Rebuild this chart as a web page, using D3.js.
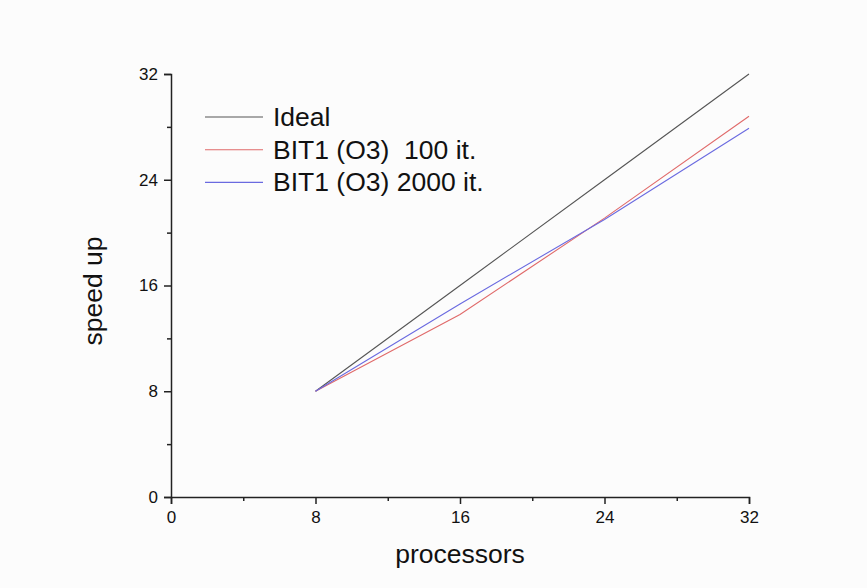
<!DOCTYPE html>
<html>
<head>
<meta charset="utf-8">
<title>speed up</title>
<style>
body { margin: 0; background-color: #fcfcfc; }
svg { display: block; font-family: "Liberation Sans", Arial, sans-serif; }
</style>
</head>
<body>
<svg width="867" height="588"></svg>
<script src="https://cdn.jsdelivr.net/npm/d3@7"></script>
<script>
// data
var processors = [8, 16, 24, 32];
var ideal      = [8, 16, 24, 32];
var bit100     = [8, 13.8, 21.1, 28.8];
var bit2000    = [8, 14.6, 21.0, 27.9];
var seriesNames = ["Ideal", "BIT1 (O3)  100 it.", "BIT1 (O3) 2000 it."];
var seriesColors = ["#555555", "#e06a6a", "#6a6ae0"];
var majorTicks = [0, 8, 16, 24, 32];
var minorTicks = [4, 12, 20, 28];

var svg = d3.select("svg");

var x = d3.scaleLinear().domain([0, 32]).range([171, 749]);
var y = d3.scaleLinear().domain([0, 32]).range([497, 74]);

var series = [ideal, bit100, bit2000].map(function(vals, i) {
  return { name: seriesNames[i], color: seriesColors[i],
           pts: processors.map(function(p, j) { return [p, vals[j]]; }) };
});

// axes
var xAxis = svg.append("g").attr("transform", "translate(0," + y(0) + ")")
    .call(d3.axisBottom(x).tickValues(majorTicks).tickSize(7).tickPadding(7).tickFormat(d3.format("d")));
var xMinor = svg.append("g").attr("transform", "translate(0," + y(0) + ")")
    .call(d3.axisBottom(x).tickValues(minorTicks).tickSize(4).tickFormat(""));
var yAxis = svg.append("g").attr("transform", "translate(" + x(0) + ",0)")
    .call(d3.axisLeft(y).tickValues(majorTicks).tickSize(7).tickPadding(6).tickFormat(d3.format("d")));
var yMinor = svg.append("g").attr("transform", "translate(" + x(0) + ",0)")
    .call(d3.axisLeft(y).tickValues(minorTicks).tickSize(4).tickFormat(""));

[xAxis, xMinor, yAxis, yMinor].forEach(function(g) {
  g.select(".domain").attr("stroke", "#222").attr("stroke-width", 1.5);
  g.selectAll(".tick line").attr("stroke", "#222").attr("stroke-width", 1.5);
  g.selectAll(".tick text").attr("fill", "#111")
    .style("font-size", "17px").style("font-family", "'Liberation Sans', Arial, sans-serif");
});
xMinor.select(".domain").remove();
yMinor.select(".domain").remove();

// lines
var line = d3.line().x(function(d) { return x(d[0]); }).y(function(d) { return y(d[1]); });
svg.selectAll(".series").data(series).enter().append("path")
    .attr("class", "series")
    .attr("d", function(d) { return line(d.pts); })
    .attr("fill", "none")
    .attr("stroke", function(d) { return d.color; })
    .attr("stroke-width", 1.1);

// legend
var legend = svg.selectAll(".legend").data(series).enter().append("g")
    .attr("class", "legend")
    .attr("transform", function(d, i) { return "translate(205," + (117 + i * 32.7) + ")"; });
legend.append("line").attr("x1", 0).attr("x2", 58).attr("y1", 0).attr("y2", 0)
    .attr("stroke", function(d) { return d.color; }).attr("stroke-width", 1.1);
legend.append("text").attr("x", 68).attr("y", 9)
    .attr("font-size", 26.5).attr("fill", "#111")
    .style("white-space", "pre")
    .text(function(d) { return d.name; });

// axis titles
svg.append("text").attr("x", 460).attr("y", 563).attr("text-anchor", "middle")
    .attr("font-size", 26.5).attr("fill", "#111").text("processors");
svg.append("text").attr("transform", "translate(102,291) rotate(-90)").attr("text-anchor", "middle")
    .attr("font-size", 26.5).attr("fill", "#111").text("speed up");
</script>
</body>
</html>
